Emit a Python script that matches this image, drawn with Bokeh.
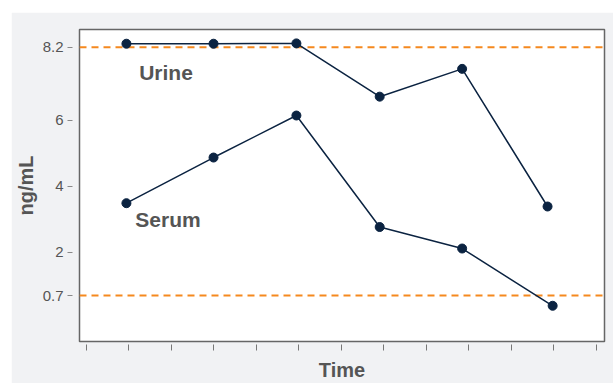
from bokeh.plotting import figure
from bokeh.models import FixedTicker, Span, Range1d, ColumnDataSource, NumeralTickFormatter
from bokeh.core.properties import value
from bokeh.embed import file_html
from bokeh.resources import INLINE

# ---- data ----
time_urine = [0.94, 2.99, 4.94, 6.90, 8.84, 10.85]
urine = [8.31, 8.31, 8.32, 6.71, 7.55, 3.39]
time_serum = [0.94, 2.99, 4.94, 6.90, 8.84, 10.97]
serum = [3.49, 4.87, 6.14, 2.77, 2.12, 0.39]
ref_levels = [8.2, 0.7]
y_ticks = [0.7, 2, 4, 6, 8.2]
x_ticks = list(range(13))
label_text = ["Urine", "Serum"]
label_x = [1.24, 1.15]
label_y = [7.44, 3.01]

FONT = "Liberation Sans"
NAVY = "#0b2341"
ORANGE = "#f5891f"
GREY_TXT = "#555555"

p = figure(width=602, height=371, output_backend="svg", toolbar_location=None,
           x_range=Range1d(-0.164, 12.19), y_range=Range1d(-0.69, 8.74),
           min_border_left=66, min_border_top=17, min_border_right=9, min_border_bottom=41)
p.margin = (12, 0, 0, 11)
p.background_fill_color = "white"
p.border_fill_color = "#f1f2f4"
p.outline_line_color = "#666666"
p.outline_line_width = 1.5
p.grid.visible = False

for lv in ref_levels:
    p.add_layout(Span(location=lv, dimension="width", line_color=ORANGE,
                      line_dash="7 5", line_width=2, level="underlay"))

p.line(time_urine, urine, line_color=NAVY, line_width=1.5)
p.scatter(time_urine, urine, size=9, fill_color=NAVY, line_color=NAVY)
p.line(time_serum, serum, line_color=NAVY, line_width=1.5)
p.scatter(time_serum, serum, size=9, fill_color=NAVY, line_color=NAVY)

src = ColumnDataSource(dict(x=label_x, y=label_y, t=label_text))
p.text(x="x", y="y", text="t", source=src, text_font=value(FONT),
       text_font_style="bold", text_font_size="21px", text_color=GREY_TXT,
       text_baseline="alphabetic", text_align="left")

ya = p.yaxis[0]
ya.ticker = FixedTicker(ticks=y_ticks)
ya.formatter = NumeralTickFormatter(format="0.[0]")
ya.axis_line_color = None
ya.major_tick_in = -7
ya.major_tick_out = 12
ya.major_tick_line_color = "#888888"
ya.minor_tick_line_color = None
ya.major_label_standoff = 4
ya.major_label_text_font = FONT
ya.major_label_text_font_size = "15px"
ya.major_label_text_color = GREY_TXT
ya.axis_label = "ng/mL"
ya.axis_label_text_font = FONT
ya.axis_label_text_font_style = "bold"
ya.axis_label_text_font_size = "20px"
ya.axis_label_text_color = GREY_TXT
ya.axis_label_standoff = 3

# x axis: unlabeled ticks, drawn as minor ticks so no empty labels are made
xa = p.xaxis[0]
xa.ticker = FixedTicker(ticks=[], minor_ticks=x_ticks)
xa.axis_line_color = None
xa.major_tick_in = -3
xa.major_tick_out = 9
xa.minor_tick_in = -3
xa.minor_tick_out = 9
xa.minor_tick_line_color = "#777777"
xa.minor_tick_line_width = 1
xa.major_label_standoff = 0
xa.axis_label = "Time"
xa.axis_label_text_font = FONT
xa.axis_label_text_font_style = "bold"
xa.axis_label_text_font_size = "20px"
xa.axis_label_text_color = GREY_TXT
xa.axis_label_standoff = 8

open("out.html", "w").write(file_html(p, INLINE))
